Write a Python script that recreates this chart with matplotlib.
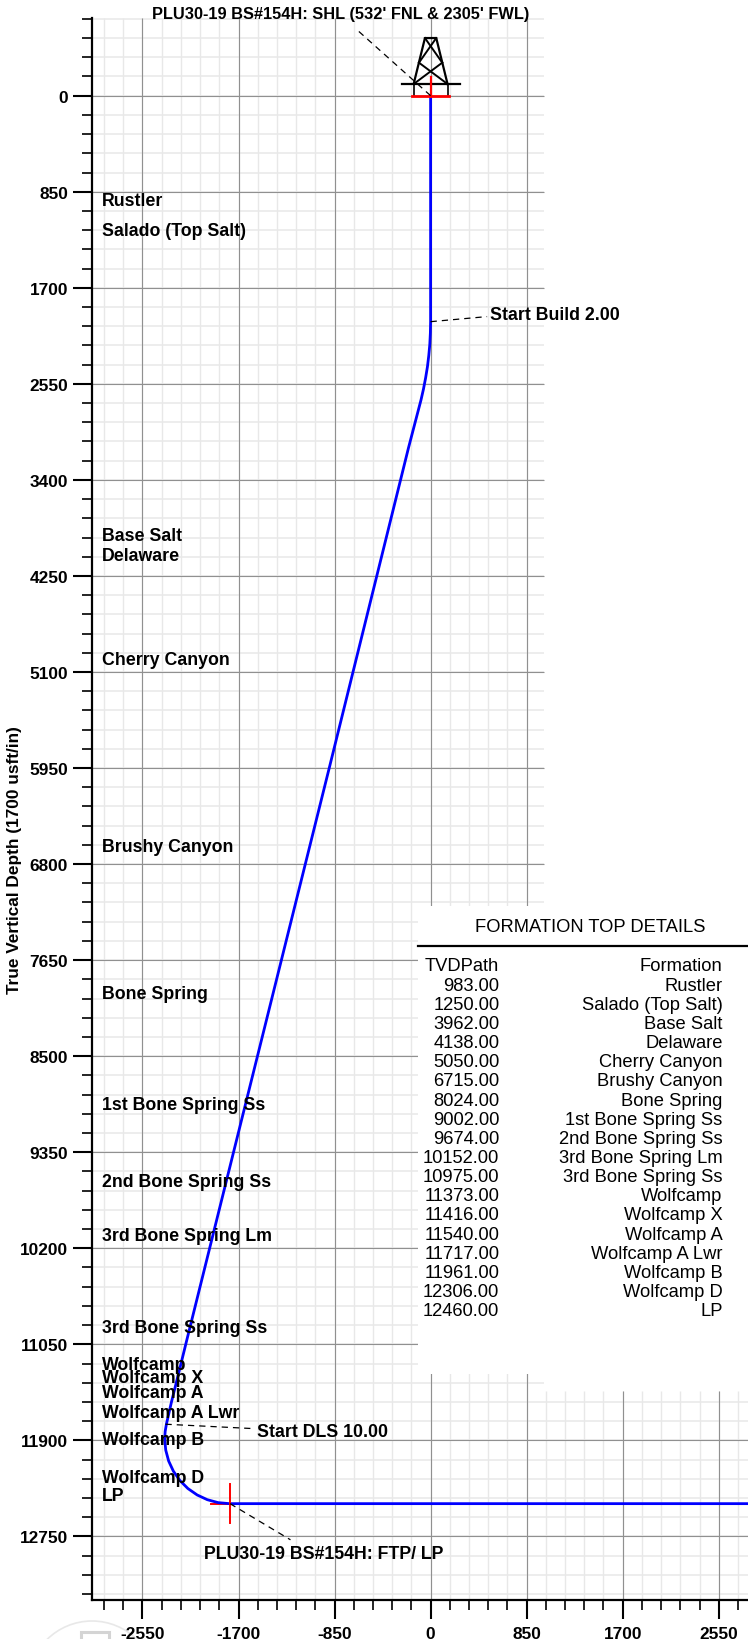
import numpy as np
import matplotlib
matplotlib.use('Agg')
from matplotlib import pyplot as plt
from matplotlib.patches import Rectangle, Ellipse

plt.rcParams['font.family'] = ['Liberation Sans', 'DejaVu Sans']

# formation tops
tvd_path = [983, 1250, 3962, 4138, 5050, 6715, 8024, 9002, 9674, 10152, 10975,
            11373, 11416, 11540, 11717, 11961, 12306, 12460]
formations = ['Rustler', 'Salado (Top Salt)', 'Base Salt', 'Delaware', 'Cherry Canyon',
              'Brushy Canyon', 'Bone Spring', '1st Bone Spring Ss', '2nd Bone Spring Ss',
              '3rd Bone Spring Lm', '3rd Bone Spring Ss', 'Wolfcamp', 'Wolfcamp X',
              'Wolfcamp A', 'Wolfcamp A Lwr', 'Wolfcamp B', 'Wolfcamp D', 'LP']
# where the labels sit on the plot, pushed apart by the software
label_y = [929, 1196, 3895, 4071, 4988, 6643, 7949, 8930, 9606, 10086, 10900,
           11227, 11348, 11474, 11649, 11888, 12233, 12389]

# wellbore
well_x = [0, 0, -2, -7, -16, -28, -44, -63, -85, -196, -897, -1744, -2153, -2233, -2292, -2337, -2349,
          -2353, -2344, -2318, -2276, -2219, -2148, -2066, -1976, -1880, -1780, 2850]
well_y = [0, 2000, 2100, 2200, 2299, 2399, 2497, 2596, 2693, 3118, 5950, 9350, 10994, 11319, 11555, 11752, 11820,
          11887, 11986, 12083, 12173, 12255, 12326, 12383, 12425, 12451, 12460, 12460]

x_major = [-2550, -1700, -850, 0, 850, 1700, 2550]
y_major = [0, 850, 1700, 2550, 3400, 4250, 5100, 5950, 6800, 7650, 8500, 9350, 10200, 11050, 11900, 12750]
x_minor = np.arange(-2890, 2811, 170)
y_minor = np.arange(-680, 13261, 170)

# rig symbol, offsets from surface location
rig_legs_x = [-150, -50, 50, 150]
rig_legs_y = [-103, -510, -510, -103]
rig_braces = [((-50, -510), (103, -292)), ((50, -510), (-103, -292)),
              ((-103, -292), (150, -103)), ((103, -292), (-150, -103))]

PX = 850 / 96.05
X_LEFT, Y_BOTTOM = -3000, 13310

fig = plt.figure(figsize=(7.48, 16.4), dpi=100)
ax = fig.add_axes([91.6 / 748, 1 - 1600.7 / 1640, (748 - 91.6) / 748, (1600.7 - 19) / 1640])
ax.set_xlim(X_LEFT, X_LEFT + (748 - 91.6) * PX)
ax.set_ylim(Y_BOTTOM, Y_BOTTOM - (1600.7 - 19) * PX)
y_top = ax.get_ylim()[1]
x_right = ax.get_xlim()[1]

GRID_RIGHT = 1000
LOWER_TOP = 11465
MINOR_C = '#e8e8e8'
MAJOR_C = '#909090'

# grid, two overlapping sheets
for v in x_minor:
    top = y_top if v <= GRID_RIGHT else LOWER_TOP
    ax.vlines(v, top, Y_BOTTOM, color=MINOR_C, lw=1.0, zorder=1)
for v in y_minor:
    right = x_right if v > LOWER_TOP else GRID_RIGHT
    ax.hlines(v, X_LEFT, right, color=MINOR_C, lw=1.1, zorder=1)
for v in x_major:
    top = y_top if v <= GRID_RIGHT else LOWER_TOP
    ax.vlines(v, top, Y_BOTTOM, color=MAJOR_C, lw=0.8, zorder=2)
for v in y_major:
    right = x_right if v > LOWER_TOP else GRID_RIGHT
    ax.hlines(v, X_LEFT, right, color=MAJOR_C, lw=0.8, zorder=2)

# white panel under the table
ax.add_patch(Rectangle((-112, 7170), 4000, 4145, fc='white', ec='none', zorder=3))

ax.plot(well_x, well_y, color='#0000ff', lw=2.0, zorder=5, solid_joinstyle='round')

# surface and FTP markers
ax.plot(rig_legs_x, rig_legs_y, color='black', lw=1.6, zorder=4)
for a, b in rig_braces:
    ax.plot([a[0], b[0]], [a[1], b[1]], color='black', lw=1.4, zorder=4)
ax.plot([-257, 262], [-103, -103], color='black', lw=1.6, zorder=4)
ax.plot([-150, -150], [-103, 0], color='black', lw=1.2, zorder=4)
ax.plot([150, 150], [-103, 0], color='black', lw=1.2, zorder=4)
ax.plot([-165, 165], [0, 0], color='red', lw=2.0, zorder=6)
ax.plot([0, 0], [-165, 0], color='red', lw=1.6, zorder=6)
ax.plot([-1945, -1605], [12460, 12460], color='red', lw=1.4, zorder=4)
ax.plot([-1775, -1775], [12290, 12630], color='red', lw=1.4, zorder=6)

# leaders
dash = dict(color='black', lw=0.9, dashes=(5, 4), zorder=6)
ax.plot([0, -665], [0, -595], **dash)
ax.plot([0, 500], [2000, 1955], **dash)
ax.plot([-2346, -1585], [11757, 11795], **dash)
ax.plot([-1775, -1240], [12460, 12780], **dash)

bold = dict(fontweight='bold', fontsize=12.8, va='center', zorder=8)
for y, f in zip(label_y, formations):
    ax.text(-2905, y, f, **bold)
ax.text(530, 1935, 'Start Build 2.00', **bold)
ax.text(-1535, 11820, 'Start DLS 10.00', **bold)
ax.text(-2005, 12905, 'PLU30-19 BS#154H: FTP/ LP', **bold)
fig.text(341 / 748, 1 - 14.5 / 1640, "PLU30-19 BS#154H: SHL (532' FNL & 2305' FWL)",
         ha='center', va='center', fontweight='bold', fontsize=11.8)

# axes
for s in ('top', 'right'):
    ax.spines[s].set_visible(False)
for s in ('left', 'bottom'):
    ax.spines[s].set_linewidth(1.6)
    ax.spines[s].set_zorder(9)
ax.set_xticks(x_major)
ax.set_yticks(y_major)
ax.set_xticks(x_minor, minor=True)
ax.set_yticks(y_minor[y_minor >= y_top], minor=True)
ax.tick_params(which='major', length=14, width=1.5, labelsize=12.4)
ax.tick_params(axis='x', which='major', pad=5)
ax.tick_params(axis='y', which='major', pad=3)
ax.tick_params(which='minor', length=7.2, width=1.2)
for lab in ax.get_xticklabels() + ax.get_yticklabels():
    lab.set_fontweight('bold')
ax.xaxis.set_major_formatter(plt.FuncFormatter(lambda v, p: str(int(v))))
fig.text(14.5 / 748, 1 - 860 / 1640, 'True Vertical Depth (1700 usft/in)', rotation=90,
         ha='center', va='center', fontweight='bold', fontsize=12.4)

# table
TFS = 13.2
fig.text(590.7 / 748, 1 - 927.2 / 1640, 'FORMATION TOP DETAILS', ha='center', va='center', fontsize=TFS)
fig.add_artist(plt.Line2D([418.3 / 748, 1], [1 - 947 / 1640] * 2, color='black', lw=1.6))
ROW0, STEP = 967.0, 19.15
fig.text(499.3 / 748, 1 - ROW0 / 1640, 'TVDPath', ha='right', va='center', fontsize=TFS)
fig.text(722.7 / 748, 1 - ROW0 / 1640, 'Formation', ha='right', va='center', fontsize=TFS)
for i, (t, f) in enumerate(zip(tvd_path, formations)):
    y = 1 - (ROW0 + (i + 1) * STEP) / 1640
    fig.text(499.3 / 748, y, f'{t}.00', ha='right', va='center', fontsize=TFS)
    fig.text(722.7 / 748, y, f, ha='right', va='center', fontsize=TFS)

# faint logo cut off at the bottom edge
fig.add_artist(Ellipse((92 / 748, 1 - 1686 / 1640), 128 / 748, 128 / 1640, fc='none', ec='#e8e8e8', lw=1.2,
                       transform=fig.transFigure, zorder=0))
fig.add_artist(Rectangle((81 / 748, 1 - 1650 / 1640), 28 / 748, 17 / 1640, fc='none', ec='#d4d4d4', lw=2.2,
                         transform=fig.transFigure, zorder=0))

fig.savefig('out.png', dpi=100)
